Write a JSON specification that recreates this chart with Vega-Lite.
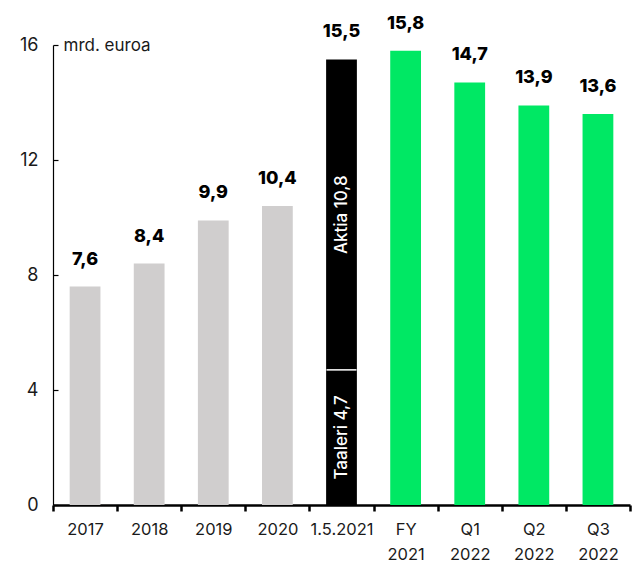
{
  "$schema": "https://vega.github.io/schema/vega-lite/v6.json",
  "width": 577,
  "height": 460,
  "autosize": {"type": "none"},
  "padding": {"left": 53, "top": 45, "right": 3, "bottom": 60},
  "background": "white",
  "config": {
    "view": {"stroke": null},
    "font": "Inter",
    "locale": {"number": {"decimal": ",", "thousands": " ", "grouping": [3], "currency": ["", " €"]}}
  },
  "datasets": {
    "totals": [
      {"cat": "2017", "value": 7.6, "group": "hist"},
      {"cat": "2018", "value": 8.4, "group": "hist"},
      {"cat": "2019", "value": 9.9, "group": "hist"},
      {"cat": "2020", "value": 10.4, "group": "hist"},
      {"cat": "1.5.2021", "value": 15.5, "group": "merger"},
      {"cat": "FY 2021", "value": 15.8, "group": "new"},
      {"cat": "Q1 2022", "value": 14.7, "group": "new"},
      {"cat": "Q2 2022", "value": 13.9, "group": "new"},
      {"cat": "Q3 2022", "value": 13.6, "group": "new"}
    ],
    "parts": [
      {"cat": "1.5.2021", "part": "Taaleri", "start": 0, "end": 4.7, "label": "Taaleri 4,7"},
      {"cat": "1.5.2021", "part": "Aktia", "start": 4.7, "end": 15.5, "label": "Aktia 10,8"}
    ]
  },
  "layer": [
    {
      "data": {"name": "totals"},
      "mark": {"type": "bar", "width": {"band": 0.48}},
      "encoding": {
        "x": {
          "field": "cat", "type": "nominal", "sort": null,
          "scale": {"paddingInner": 0, "paddingOuter": 0},
          "axis": {
            "title": null, "labelAngle": 0,
            "labelExpr": "split(datum.label, ' ')",
            "labelFontSize": 16.5, "labelColor": "#1a1a1a", "labelPadding": 10,
            "labelLineHeight": 25,
            "domainColor": "black", "domainWidth": 2.5,
            "tickBand": "extent", "tickColor": "black", "tickWidth": 2.5, "tickSize": 6
          }
        },
        "y": {
          "field": "value", "type": "quantitative",
          "scale": {"domain": [0, 16], "nice": false},
          "axis": {
            "values": [0, 4, 8, 12, 16],
            "title": "mrd. euroa", "titleAngle": 0, "titleX": 10, "titleY": 0,
            "titleAlign": "left", "titleBaseline": "middle",
            "titleFontSize": 17, "titleFontWeight": "normal", "titleColor": "#1a1a1a",
            "labelFontSize": 18, "labelColor": "#1a1a1a", "labelPadding": 20,
            "domainColor": "black", "domainWidth": 1.2,
            "tickColor": "black", "tickSize": -5, "tickWidth": 1.2,
            "grid": false
          }
        },
        "color": {
          "field": "group", "type": "nominal", "legend": null,
          "scale": {"domain": ["hist", "merger", "new"], "range": ["#d0cece", "#000000", "#00e864"]}
        }
      }
    },
    {
      "data": {"name": "parts"},
      "transform": [{"filter": "datum.start > 0"}],
      "mark": {"type": "tick", "orient": "horizontal", "color": "white", "thickness": 1.5, "size": 30, "opacity": 1},
      "encoding": {
        "x": {"field": "cat", "type": "nominal", "sort": null},
        "y": {"field": "start", "type": "quantitative"}
      }
    },
    {
      "data": {"name": "parts"},
      "transform": [{"calculate": "(datum.start + datum.end) / 2", "as": "mid"}],
      "mark": {"type": "text", "angle": 270, "color": "white", "fontSize": 17, "fontWeight": 500, "align": "center", "baseline": "middle"},
      "encoding": {
        "x": {"field": "cat", "type": "nominal", "sort": null},
        "y": {"field": "mid", "type": "quantitative"},
        "text": {"field": "label"}
      }
    },
    {
      "data": {"name": "totals"},
      "mark": {"type": "text", "baseline": "bottom", "dy": -18, "fontSize": 18, "fontWeight": 800, "color": "black"},
      "encoding": {
        "x": {"field": "cat", "type": "nominal", "sort": null},
        "y": {"field": "value", "type": "quantitative"},
        "text": {"field": "value", "type": "quantitative", "format": ".1f"}
      }
    }
  ]
}
